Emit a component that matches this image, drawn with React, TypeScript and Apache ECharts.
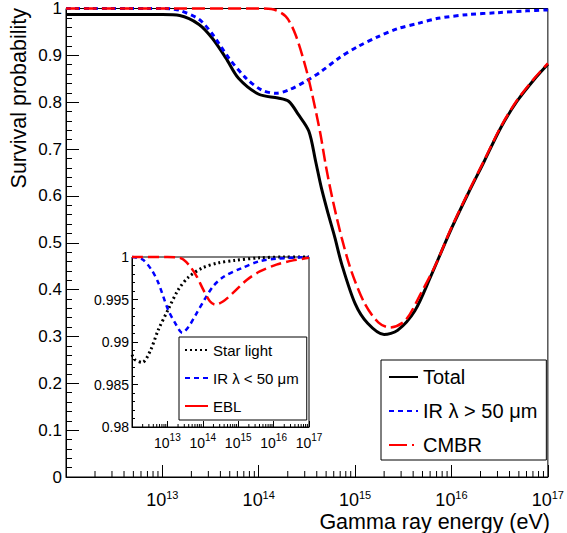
import React, { useEffect, useRef } from 'react';
import * as echarts from 'echarts';

// ---- Data (x: log10 of gamma-ray energy in eV, y: survival probability) ----
const totalLogE = [12.0, 12.5, 13.0, 13.18, 13.38, 13.52, 13.66, 13.79, 14.0, 14.2, 14.31, 14.41, 14.52, 14.59, 14.65, 14.72, 14.79, 14.86, 15.0, 15.13, 15.3, 15.44, 15.62, 15.78, 15.99, 16.17, 16.34, 16.51, 16.68, 16.86, 17.0];
const totalP = [0.987, 0.987, 0.987, 0.985, 0.966, 0.936, 0.894, 0.851, 0.817, 0.809, 0.802, 0.774, 0.738, 0.674, 0.617, 0.562, 0.511, 0.455, 0.37, 0.328, 0.304, 0.313, 0.355, 0.426, 0.526, 0.604, 0.674, 0.745, 0.802, 0.849, 0.881];

const irHighLogE = [12.0, 13.0, 13.1, 13.18, 13.38, 13.52, 13.69, 13.87, 14.03, 14.18, 14.31, 14.49, 14.65, 14.83, 15.03, 15.24, 15.44, 15.65, 15.86, 16.17, 16.47, 16.78, 17.0];
const irHighP = [1, 1, 0.999, 0.996, 0.977, 0.945, 0.894, 0.851, 0.826, 0.819, 0.826, 0.845, 0.866, 0.894, 0.919, 0.94, 0.957, 0.968, 0.979, 0.987, 0.991, 0.995, 0.997];

const cmbrLogE = [12.0, 13.0, 14.0, 14.13, 14.28, 14.38, 14.49, 14.57, 14.64, 14.7, 14.77, 14.86, 14.96, 15.1, 15.24, 15.36, 15.52, 15.68, 15.84, 15.99, 16.17, 16.34, 16.51, 16.68, 16.86, 17.0];
const cmbrP = [1, 1, 1, 0.999, 0.983, 0.945, 0.872, 0.802, 0.732, 0.66, 0.589, 0.511, 0.44, 0.37, 0.33, 0.319, 0.334, 0.391, 0.455, 0.528, 0.606, 0.676, 0.747, 0.804, 0.851, 0.883];

// inset
const starLogE = [12.0, 12.09, 12.29, 12.52, 12.74, 13.02, 13.3, 13.59, 13.98, 14.43, 14.9, 15.6, 16.3, 17.0];
const starP = [0.9885, 0.9879, 0.9876, 0.989, 0.9914, 0.9938, 0.9961, 0.9976, 0.9987, 0.9993, 0.9996, 0.9999, 1.0, 1.0];

const irLowLogE = [12.0, 12.3, 12.55, 12.74, 13.02, 13.25, 13.42, 13.6, 13.8, 14.05, 14.3, 14.6, 15.1, 15.6, 16.1, 17.0];
const irLowP = [1.0, 0.9997, 0.9985, 0.997, 0.9938, 0.992, 0.9911, 0.9918, 0.9932, 0.995, 0.9966, 0.9977, 0.9987, 0.9995, 0.9998, 1.0];

const eblLogE = [12.0, 13.0, 13.3, 13.45, 13.64, 13.83, 14.02, 14.2, 14.35, 14.58, 14.86, 15.24, 15.61, 16.08, 16.55, 17.0];
const eblP = [1, 1, 0.99995, 0.9997, 0.9989, 0.9977, 0.9961, 0.9948, 0.9944, 0.9948, 0.9958, 0.9973, 0.9983, 0.9991, 0.9996, 0.9999];

const decadeExponents = [12, 13, 14, 15, 16, 17];
const minorMultipliers = [2, 3, 4, 5, 6, 7, 8, 9];

const FONT = '"Liberation Sans", Arial, Helvetica, sans-serif';
const CLEAR = 'rgba(0,0,0,0)';

const pairs = (xs: number[], ys: number[]) => xs.map((x, i) => [x, ys[i]]);

export default function App() {
  const ref = useRef<HTMLDivElement>(null);

  useEffect(() => {
    document.body.style.margin = '0';
    if (!ref.current) return;
    const chart = echarts.init(ref.current, undefined, { renderer: 'svg' });

    const minorLogTicks = decadeExponents
      .slice(0, -1)
      .flatMap((d) => minorMultipliers.map((m) => d + Math.log10(m)));

    const xLabel = (base: number, sup: number, lh: number, margin: number) => ({
      margin,
      formatter: (v: number) => (Math.abs(v - 12) < 1e-6 ? '' : `{b|10}{s|${Math.round(v)}}`),
      rich: {
        b: { fontSize: base, fontFamily: FONT, color: '#000', lineHeight: lh, verticalAlign: 'bottom' },
        s: { fontSize: sup, fontFamily: FONT, color: '#000', verticalAlign: 'top' },
      },
    });

    const majorX = (grid: number, tickLen: number, label: any) => ({
      type: 'value',
      gridIndex: grid,
      min: 12,
      max: 17,
      interval: 1,
      axisLine: { show: true, lineStyle: { color: '#000', width: 1 } },
      axisTick: { show: true, inside: true, length: tickLen, lineStyle: { color: '#000' } },
      axisLabel: label,
      splitLine: { show: false },
    });

    const line = (name: string, xs: number[], ys: number[], color: string, width: number, type: any, xi: number, yi: number) => ({
      name,
      type: 'line',
      xAxisIndex: xi,
      yAxisIndex: yi,
      data: pairs(xs, ys),
      showSymbol: false,
      symbol: 'none',
      smooth: 0.3,
      clip: false,
      lineStyle: { color, width, type },
      itemStyle: { color: CLEAR, borderColor: CLEAR },
    });

    // minor log ticks on the x axes (2..9 x 10^n), drawn through the axes' own scales
    const minorTickSeries = (xi: number, yi: number, yMin: number, len: number) => ({
      type: 'custom',
      xAxisIndex: xi,
      yAxisIndex: yi,
      silent: true,
      clip: false,
      z: 1,
      data: minorLogTicks.map((v) => [v, yMin]),
      renderItem: (_p: any, api: any) => {
        const pt = api.coord([api.value(0), api.value(1)]);
        return {
          type: 'line',
          shape: { x1: pt[0], y1: pt[1], x2: pt[0], y2: pt[1] - len },
          style: { stroke: '#000', lineWidth: 1 },
        };
      },
    });

    chart.setOption({
      animation: false,
      backgroundColor: '#fff',
      textStyle: { fontFamily: FONT },
      grid: [
        { left: 66, top: 7, right: 17, bottom: 56, show: true, borderColor: '#000', borderWidth: 1, backgroundColor: 'transparent' },
        { left: 132, top: 257, right: 258, bottom: 106, show: true, borderColor: '#000', borderWidth: 1, backgroundColor: '#fff' },
      ],
      xAxis: [
        majorX(0, 12, xLabel(18, 11, 20, 12)),
        majorX(1, 6, xLabel(14, 10, 18, 5)),
      ],
      yAxis: [
        {
          type: 'value',
          gridIndex: 0,
          min: 0,
          max: 1,
          interval: 0.1,
          axisLine: { show: true, lineStyle: { color: '#000' } },
          axisTick: { show: true, inside: true, length: 13, lineStyle: { color: '#000' } },
          minorTick: { show: true, splitNumber: 5, length: 6, lineStyle: { color: '#000' } },
          axisLabel: { fontSize: 17, color: '#000', margin: 4, fontFamily: FONT, formatter: (v: number) => String(+v.toFixed(2)) },
          splitLine: { show: false },
        },
        {
          type: 'value',
          gridIndex: 1,
          min: 0.98,
          max: 1,
          interval: 0.005,
          axisLine: { show: true, lineStyle: { color: '#000' } },
          axisTick: { show: true, inside: true, length: 6, lineStyle: { color: '#000' } },
          minorTick: { show: true, splitNumber: 5, length: 3, lineStyle: { color: '#000' } },
          axisLabel: { fontSize: 14, color: '#000', margin: 3, fontFamily: FONT, formatter: (v: number) => String(+v.toFixed(3)) },
          splitLine: { show: false },
        },
      ],
      legend: [
        {
          orient: 'vertical',
          left: 381,
          top: 360,
          padding: [5, 9, 3, 7],
          itemGap: 10,
          itemWidth: 29,
          itemHeight: 14,
          backgroundColor: '#fff',
          borderColor: '#000',
          borderWidth: 1,
          borderRadius: 0,
          itemStyle: { color: CLEAR, borderColor: CLEAR, opacity: 0 },
          textStyle: { fontSize: 20, color: '#000', fontFamily: FONT, lineHeight: 24 },
          data: [
            { name: 'Total' },
            { name: 'IR λ > 50 μm' },
            { name: 'CMBR', lineStyle: { type: [18, 5, 2, 10] } },
          ],
        },
        {
          orient: 'vertical',
          left: 179,
          top: 337,
          padding: [4, 8, 5, 5],
          itemGap: 10,
          itemWidth: 23,
          itemHeight: 12,
          backgroundColor: '#fff',
          borderColor: '#000',
          borderWidth: 1,
          borderRadius: 0,
          itemStyle: { color: CLEAR, borderColor: CLEAR, opacity: 0 },
          textStyle: { fontSize: 15, color: '#000', fontFamily: FONT, lineHeight: 18 },
          data: [
            { name: 'Star light' },
            { name: 'IR λ < 50 μm' },
            { name: 'EBL', lineStyle: { type: 'solid' } },
          ],
        },
      ],
      graphic: [
        {
          type: 'text',
          x: 19,
          y: 8,
          rotation: Math.PI / 2,
          style: { text: 'Survival probability', fontSize: 21.5, fontFamily: FONT, fill: '#000', textAlign: 'right', textVerticalAlign: 'middle' },
        },
        {
          type: 'text',
          x: 550,
          y: 522,
          style: { text: 'Gamma ray energy (eV)', fontSize: 21.5, fontFamily: FONT, fill: '#000', textAlign: 'right', textVerticalAlign: 'middle' },
        },
      ],
      series: [
        minorTickSeries(0, 0, 0, 6),
        minorTickSeries(1, 1, 0.98, 3),
        line('Total', totalLogE, totalP, '#000000', 3, 'solid', 0, 0),
        line('IR λ > 50 μm', irHighLogE, irHighP, '#0000ff', 3, [5, 4], 0, 0),
        line('CMBR', cmbrLogE, cmbrP, '#ff0000', 2.5, [13, 5], 0, 0),
        line('Star light', starLogE, starP, '#000000', 3, [2, 3], 1, 1),
        line('IR λ < 50 μm', irLowLogE, irLowP, '#0000ff', 2.5, [5, 4], 1, 1),
        line('EBL', eblLogE, eblP, '#ff0000', 2.5, [11, 5], 1, 1),
      ],
    });

    return () => chart.dispose();
  }, []);

  return <div ref={ref} style={{ width: 567, height: 533 }} />;
}
